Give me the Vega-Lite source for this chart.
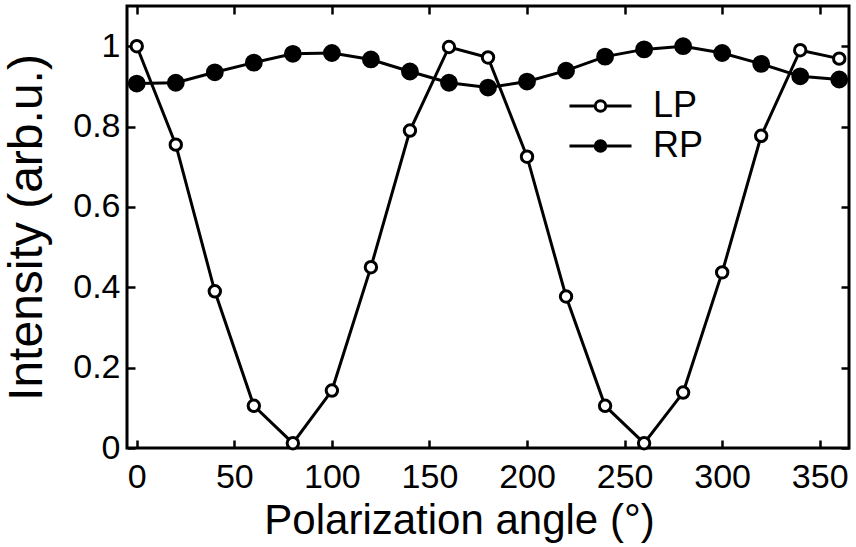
{
  "$schema": "https://vega.github.io/schema/vega-lite/v6.json",
  "width": 722,
  "height": 442,
  "autosize": {"type": "none"},
  "padding": {"left": 127, "top": 6, "right": 7, "bottom": 99},
  "background": "white",
  "config": {
    "view": {"stroke": "black", "strokeWidth": 3},
    "font": "Liberation Sans",
    "axis": {
      "grid": false,
      "domain": false,
      "labelColor": "black",
      "titleColor": "black",
      "labelFont": "Liberation Sans",
      "titleFont": "Liberation Sans",
      "titleFontWeight": "normal",
      "labelFontSize": 34,
      "titleFontSize": 42
    }
  },
  "data": {
    "values": [
      {"angle": 0, "intensity": 1.0, "series": "LP"},
      {"angle": 20, "intensity": 0.755, "series": "LP"},
      {"angle": 40, "intensity": 0.39, "series": "LP"},
      {"angle": 60, "intensity": 0.105, "series": "LP"},
      {"angle": 80, "intensity": 0.012, "series": "LP"},
      {"angle": 100, "intensity": 0.143, "series": "LP"},
      {"angle": 120, "intensity": 0.45, "series": "LP"},
      {"angle": 140, "intensity": 0.79, "series": "LP"},
      {"angle": 160, "intensity": 0.998, "series": "LP"},
      {"angle": 180, "intensity": 0.972, "series": "LP"},
      {"angle": 200, "intensity": 0.725, "series": "LP"},
      {"angle": 220, "intensity": 0.377, "series": "LP"},
      {"angle": 240, "intensity": 0.105, "series": "LP"},
      {"angle": 260, "intensity": 0.012, "series": "LP"},
      {"angle": 280, "intensity": 0.138, "series": "LP"},
      {"angle": 300, "intensity": 0.437, "series": "LP"},
      {"angle": 320, "intensity": 0.777, "series": "LP"},
      {"angle": 340, "intensity": 0.99, "series": "LP"},
      {"angle": 360, "intensity": 0.969, "series": "LP"},
      {"angle": 0, "intensity": 0.907, "series": "RP"},
      {"angle": 20, "intensity": 0.909, "series": "RP"},
      {"angle": 40, "intensity": 0.935, "series": "RP"},
      {"angle": 60, "intensity": 0.959, "series": "RP"},
      {"angle": 80, "intensity": 0.981, "series": "RP"},
      {"angle": 100, "intensity": 0.983, "series": "RP"},
      {"angle": 120, "intensity": 0.967, "series": "RP"},
      {"angle": 140, "intensity": 0.937, "series": "RP"},
      {"angle": 160, "intensity": 0.909, "series": "RP"},
      {"angle": 180, "intensity": 0.897, "series": "RP"},
      {"angle": 200, "intensity": 0.912, "series": "RP"},
      {"angle": 220, "intensity": 0.939, "series": "RP"},
      {"angle": 240, "intensity": 0.974, "series": "RP"},
      {"angle": 260, "intensity": 0.992, "series": "RP"},
      {"angle": 280, "intensity": 1.0, "series": "RP"},
      {"angle": 300, "intensity": 0.983, "series": "RP"},
      {"angle": 320, "intensity": 0.956, "series": "RP"},
      {"angle": 340, "intensity": 0.925, "series": "RP"},
      {"angle": 360, "intensity": 0.917, "series": "RP"}
    ]
  },
  "layer": [
    {
      "mark": {"type": "line", "color": "black", "strokeWidth": 3},
      "encoding": {
        "x": {
          "field": "angle", "type": "quantitative",
          "scale": {"domain": [-5, 365], "nice": false, "zero": false},
          "axis": {"orient": "bottom", "offset": -8, "values": [0, 50, 100, 150, 200, 250, 300, 350], "ticks": true, "tickSize": 8, "tickWidth": 2.5, "tickColor": "black", "labelPadding": 12, "title": "Polarization angle (\u00b0)", "titlePadding": 6, "titleX": 332}
        },
        "y": {
          "field": "intensity", "type": "quantitative",
          "scale": {"domain": [0, 1.1], "nice": false},
          "axis": {"orient": "left", "offset": -8, "values": [0, 0.2, 0.4, 0.6, 0.8, 1], "format": "~g", "ticks": true, "tickSize": 8, "tickWidth": 2.5, "tickColor": "black", "labelPadding": 7, "title": "Intensity (arb.u.)", "titleFontSize": 48, "titlePadding": 21}
        },
        "detail": {"field": "series"}
      }
    },
    {
      "mark": {"type": "point", "shape": "circle", "stroke": "black", "strokeWidth": 3, "opacity": 1, "fillOpacity": 1, "strokeOpacity": 1},
      "encoding": {
        "x": {
          "field": "angle", "type": "quantitative",
          "axis": {"orient": "top", "offset": -8, "values": [0, 50, 100, 150, 200, 250, 300, 350], "ticks": true, "tickSize": 8, "tickWidth": 2.5, "tickColor": "black", "labels": false, "title": null}
        },
        "y": {
          "field": "intensity", "type": "quantitative",
          "axis": {"orient": "right", "offset": -8, "values": [0, 0.2, 0.4, 0.6, 0.8, 1], "ticks": true, "tickSize": 8, "tickWidth": 2.5, "tickColor": "black", "labels": false, "title": null}
        },
        "fill": {
          "field": "series", "type": "nominal",
          "scale": {"domain": ["LP", "RP"], "range": ["white", "black"]},
          "legend": {
            "title": null,
            "orient": "none",
            "legendX": 441,
            "legendY": 80,
            "symbolType": "M -1 0 L -0.17 0 M 0.17 0 L 1 0 M -0.17 0 A 0.17 0.17 0 1 1 0.17 0 A 0.17 0.17 0 1 1 -0.17 0",
            "symbolSize": 3844,
            "symbolStrokeColor": "black",
            "symbolStrokeWidth": 3,
            "symbolOpacity": 1,
            "clipHeight": 40,
            "labelFontSize": 36,
            "labelFont": "Liberation Sans",
            "labelColor": "black",
            "labelOffset": 20,
            "rowPadding": 0
          }
        },
        "size": {"condition": {"test": "datum.series === 'RP'", "value": 220}, "value": 130}
      }
    }
  ]
}
